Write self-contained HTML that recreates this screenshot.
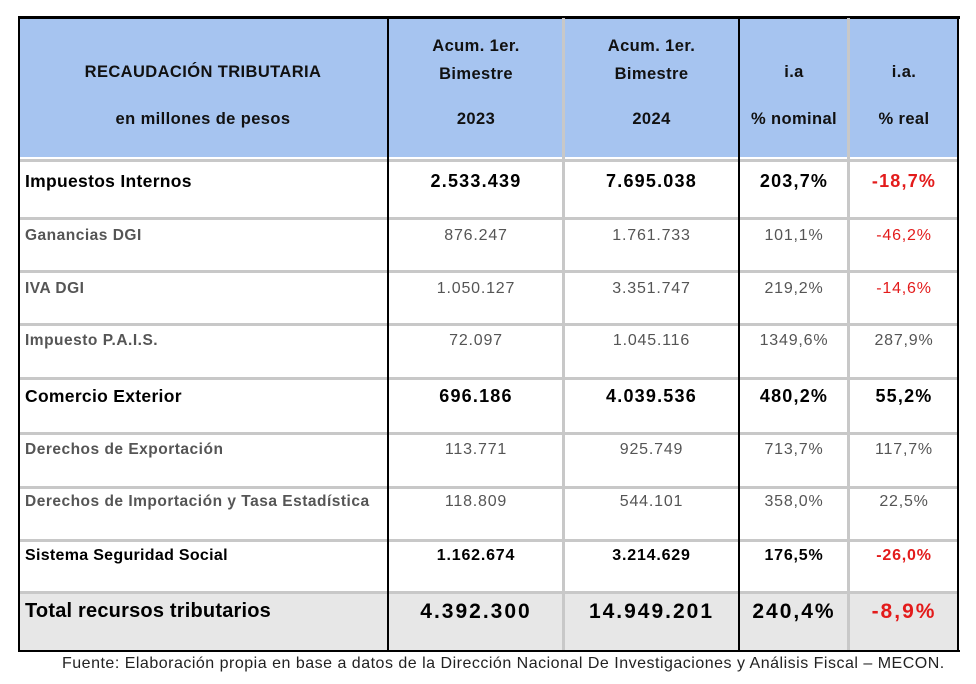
<!DOCTYPE html>
<html><head><meta charset="utf-8">
<style>
body{margin:0;width:976px;height:684px;background:#fff;position:relative;overflow:hidden;font-family:"Liberation Sans",sans-serif}
.a{position:absolute}
.hl{position:absolute;left:18px;width:941px;height:3px;background:#c8c8c8}
.vl{position:absolute;width:2px;background:#000}
.vg{position:absolute;width:3px;background:#c8c8c8}
.c{position:absolute;text-align:center;white-space:nowrap}
.l{position:absolute;left:25px;white-space:nowrap}
.n{font-size:15.5px;color:#555;font-weight:bold;letter-spacing:0.5px}
.nv{font-size:16px;color:#555;letter-spacing:0.8px}
.b{font-size:17.5px;font-weight:bold;color:#000;letter-spacing:0.3px}
.bn{font-size:18px;font-weight:bold;color:#000;letter-spacing:1.2px}
.bv{font-size:16px;font-weight:bold;color:#000;letter-spacing:0.3px}
.bvn{font-size:16px;font-weight:bold;color:#000;letter-spacing:0.8px}
.t{font-size:20px;font-weight:bold;letter-spacing:0.2px}
.tn{font-size:21px;font-weight:bold;letter-spacing:2px}
.red{color:#e31b1b!important}
.h{font-size:16.5px;font-weight:bold;color:#111;letter-spacing:0.4px}
</style></head><body>
<div class="a" style="left:18px;top:18px;width:941px;height:139px;background:#a6c4f0"></div>
<div class="a" style="left:18px;top:594px;width:941px;height:56px;background:#e7e7e7"></div>
<div class="a" style="left:18px;top:16px;width:942px;height:3px;background:#000"></div>
<div class="a" style="left:18px;top:650px;width:942px;height:2px;background:#000"></div>
<div class="hl" style="top:159px"></div>
<div class="hl" style="top:217px"></div>
<div class="hl" style="top:270px"></div>
<div class="hl" style="top:323px"></div>
<div class="hl" style="top:377px"></div>
<div class="hl" style="top:432px"></div>
<div class="hl" style="top:486px"></div>
<div class="hl" style="top:539px"></div>
<div class="hl" style="top:591px"></div>
<div class="vg" style="left:562px;top:18px;height:632px"></div>
<div class="vg" style="left:847px;top:18px;height:632px"></div>
<div class="vl" style="left:18px;top:18px;height:634px"></div>
<div class="vl" style="left:387px;top:18px;height:632px"></div>
<div class="vl" style="left:738px;top:18px;height:632px"></div>
<div class="vl" style="left:957px;top:18px;height:634px"></div>

<div class="c h" style="left:18px;width:370px;top:63px">RECAUDACIÓN TRIBUTARIA</div>
<div class="c h" style="left:18px;width:370px;top:110px">en millones de pesos</div>
<div class="c h" style="left:389px;width:174px;top:32px;line-height:28px">Acum. 1er.<br>Bimestre</div>
<div class="c h" style="left:389px;width:174px;top:110px">2023</div>
<div class="c h" style="left:564px;width:175px;top:32px;line-height:28px">Acum. 1er.<br>Bimestre</div>
<div class="c h" style="left:564px;width:175px;top:110px">2024</div>
<div class="c h" style="left:740px;width:108px;top:63px">i.a</div>
<div class="c h" style="left:740px;width:108px;top:110px">% nominal</div>
<div class="c h" style="left:850px;width:108px;top:63px">i.a.</div>
<div class="c h" style="left:850px;width:108px;top:110px">% real</div>

<div class="l b" style="top:171px">Impuestos Internos</div>
<div class="c bn" style="top:171px;left:389px;width:174px">2.533.439</div>
<div class="c bn" style="top:171px;left:564px;width:175px">7.695.038</div>
<div class="c bn" style="top:171px;left:740px;width:108px">203,7%</div>
<div class="c bn red" style="top:171px;left:850px;width:108px">-18,7%</div>

<div class="l n" style="top:227px">Ganancias DGI</div>
<div class="c nv" style="top:227px;left:389px;width:174px">876.247</div>
<div class="c nv" style="top:227px;left:564px;width:175px">1.761.733</div>
<div class="c nv" style="top:227px;left:740px;width:108px">101,1%</div>
<div class="c nv red" style="top:227px;left:850px;width:108px">-46,2%</div>

<div class="l n" style="top:280px">IVA DGI</div>
<div class="c nv" style="top:280px;left:389px;width:174px">1.050.127</div>
<div class="c nv" style="top:280px;left:564px;width:175px">3.351.747</div>
<div class="c nv" style="top:280px;left:740px;width:108px">219,2%</div>
<div class="c nv red" style="top:280px;left:850px;width:108px">-14,6%</div>

<div class="l n" style="top:332px">Impuesto P.A.I.S.</div>
<div class="c nv" style="top:332px;left:389px;width:174px">72.097</div>
<div class="c nv" style="top:332px;left:564px;width:175px">1.045.116</div>
<div class="c nv" style="top:332px;left:740px;width:108px">1349,6%</div>
<div class="c nv" style="top:332px;left:850px;width:108px">287,9%</div>

<div class="l b" style="top:386px">Comercio Exterior</div>
<div class="c bn" style="top:386px;left:389px;width:174px">696.186</div>
<div class="c bn" style="top:386px;left:564px;width:175px">4.039.536</div>
<div class="c bn" style="top:386px;left:740px;width:108px">480,2%</div>
<div class="c bn" style="top:386px;left:850px;width:108px">55,2%</div>

<div class="l n" style="top:441px">Derechos de Exportación</div>
<div class="c nv" style="top:441px;left:389px;width:174px">113.771</div>
<div class="c nv" style="top:441px;left:564px;width:175px">925.749</div>
<div class="c nv" style="top:441px;left:740px;width:108px">713,7%</div>
<div class="c nv" style="top:441px;left:850px;width:108px">117,7%</div>

<div class="l n" style="top:493px">Derechos de Importación y Tasa Estadística</div>
<div class="c nv" style="top:493px;left:389px;width:174px">118.809</div>
<div class="c nv" style="top:493px;left:564px;width:175px">544.101</div>
<div class="c nv" style="top:493px;left:740px;width:108px">358,0%</div>
<div class="c nv" style="top:493px;left:850px;width:108px">22,5%</div>

<div class="l bv" style="top:547px">Sistema Seguridad Social</div>
<div class="c bvn" style="top:547px;left:389px;width:174px">1.162.674</div>
<div class="c bvn" style="top:547px;left:564px;width:175px">3.214.629</div>
<div class="c bvn" style="top:547px;left:740px;width:108px">176,5%</div>
<div class="c bvn red" style="top:547px;left:850px;width:108px">-26,0%</div>

<div class="l t" style="top:600px">Total recursos tributarios</div>
<div class="c tn" style="top:600px;left:389px;width:174px">4.392.300</div>
<div class="c tn" style="top:600px;left:564px;width:175px">14.949.201</div>
<div class="c tn" style="top:600px;left:740px;width:108px">240,4%</div>
<div class="c tn red" style="top:600px;left:850px;width:108px">-8,9%</div>

<div class="a" style="left:62px;top:655px;font-size:16px;letter-spacing:0.5px;color:#222;white-space:nowrap">Fuente: Elaboración propia en base a datos de la Dirección Nacional De Investigaciones y Análisis Fiscal – MECON.</div>
</body></html>
